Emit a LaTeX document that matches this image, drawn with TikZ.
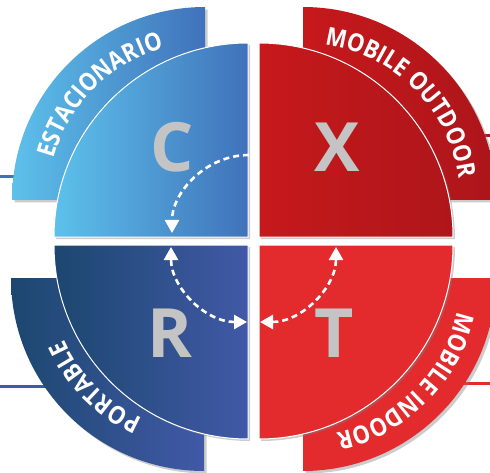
\documentclass[tikz,border=0pt]{standalone}
\usepackage{fontspec}
\setmainfont{Open Sans}
\newfontfamily\bandface[FakeStretch=0.88]{Open Sans}
\usetikzlibrary{positioning,shadows,decorations.text,arrows.meta}
\definecolor{skyLight}{HTML}{5DC1EB}
\definecolor{skyDeep}{HTML}{4072BA}
\definecolor{navyDeep}{HTML}{1C476F}
\definecolor{navyLight}{HTML}{4159A7}
\definecolor{wineLight}{HTML}{C6191C}
\definecolor{wineDeep}{HTML}{AC151A}
\definecolor{scarlet}{HTML}{E32A2D}
\definecolor{letterGray}{HTML}{C4C4C4}
\newcommand{\bandfont}{\bandface\bfseries\fontsize{25}{25}\selectfont}

\begin{document}
\begin{tikzpicture}[x=1pt,y=1pt,
		quad/.style={draw=white,line width=1pt,drop shadow={shadow xshift=2pt,shadow yshift=-2pt,opacity=.4}},
		band/.style={drop shadow={shadow xshift=2.5pt,shadow yshift=-2.5pt,opacity=.4}},
		letter/.style={text=letterGray,font=\bfseries\fontsize{68}{68}\selectfont,inner sep=0pt},
		link/.style={white,line width=2.6pt,dash pattern=on 6pt off 4pt,>={Triangle[length=13pt,width=14pt]}},
		lead/.style={line width=3pt},
		label/.style={decorate,decoration={text along path,text align=center,text color=white}}]
	\useasboundingbox (0,0) rectangle (490,472);

	% corners of the bands and of the quadrants
	\coordinate (bC) at (205,272);
	\coordinate (bX) at (303,272);
	\coordinate (bR) at (204,194);
	\coordinate (bT) at (303,194);
	\coordinate (qC) at (248,235);
	\coordinate (qX) at (259,235);
	\coordinate (qR) at (248,227);
	\coordinate (qT) at (259,227);

	% side lines
	\coordinate (l1) at (0,295);
	\coordinate (l2) at (0,86);
	\coordinate (r1) at (490,336);
	\coordinate (r2) at (490,89);
	\draw[lead,skyDeep] (l1) -- ++(60,0);
	\draw[lead,navyLight] (l2) -- ++(80,0);
	\draw[lead,wineDeep] (r1) -- ++(-60,0);
	\draw[lead,scarlet] (r2) -- ++(-80,0);

	% outer bands
	\path[band,left color=skyLight,right color=skyDeep] (bC) -- ++(0,193pt) arc[start angle=90,end angle=180,radius=193pt] -- cycle;
	\path[band,left color=wineLight,right color=wineDeep] (bX) -- ++(193pt,0) arc[start angle=0,end angle=90,radius=193pt] -- cycle;
	\path[band,left color=navyDeep,right color=navyLight] (bR) -- ++(-193pt,0) arc[start angle=180,end angle=270,radius=193pt] -- cycle;
	\path[band,fill=scarlet] (bT) -- ++(0,-193pt) arc[start angle=270,end angle=360,radius=193pt] -- cycle;

	% band labels
	\path[label,decoration={text={|\bandfont|ESTACIONARIO}}] (bC) ++(180:157pt) arc[start angle=180,end angle=90,radius=157pt];
	\path[label,decoration={text={|\bandfont|MOBILE OUTDOOR}}] (bX) ++(90:157pt) arc[start angle=90,end angle=0,radius=157pt];
	\path[label,decoration={text={|\bandfont|PORTABLE}}] (bR) ++(270:153pt) arc[start angle=270,end angle=180,radius=153pt];
	\path[label,decoration={text={|\bandfont|MOBILE INDOOR}}] (bT) ++(0:158pt) arc[start angle=0,end angle=-90,radius=158pt];

	% inner quadrants
	\path[quad,left color=skyLight,right color=skyDeep] (qC) -- ++(0,194pt) arc[start angle=90,end angle=180,radius=194pt] -- cycle;
	\path[quad,left color=wineLight,right color=wineDeep!90!wineLight] (qX) -- ++(194pt,0) arc[start angle=0,end angle=90,radius=194pt] -- cycle;
	\path[quad,left color=navyDeep,right color=navyLight] (qR) -- ++(-194pt,0) arc[start angle=180,end angle=270,radius=194pt] -- cycle;
	\path[quad,fill=scarlet] (qT) -- ++(0,-194pt) arc[start angle=270,end angle=360,radius=194pt] -- cycle;

	% letters
	\node[letter] (c) at (172,325) {C};
	\node[letter] (x) at (337,325) {X};
	\node[letter] (r) at (170,139) {R};
	\node[letter] (t) at (334,139) {T};

	% dashed arrows
	\coordinate (aC) at (249,317);
	\coordinate (aR) at (248,150);
	\coordinate (aT) at (259,150);
	\draw[link,->,shorten >=4pt] (aC) arc[start angle=90,end angle=180,x radius=77pt,y radius=82pt];
	\draw[link,<->,shorten >=2pt,shorten <=1pt] (aR) arc[start angle=270,end angle=180,radius=77pt];
	\draw[link,<->,shorten >=2pt,shorten <=1pt] (aT) arc[start angle=270,end angle=360,radius=77pt];
\end{tikzpicture}
\end{document}
